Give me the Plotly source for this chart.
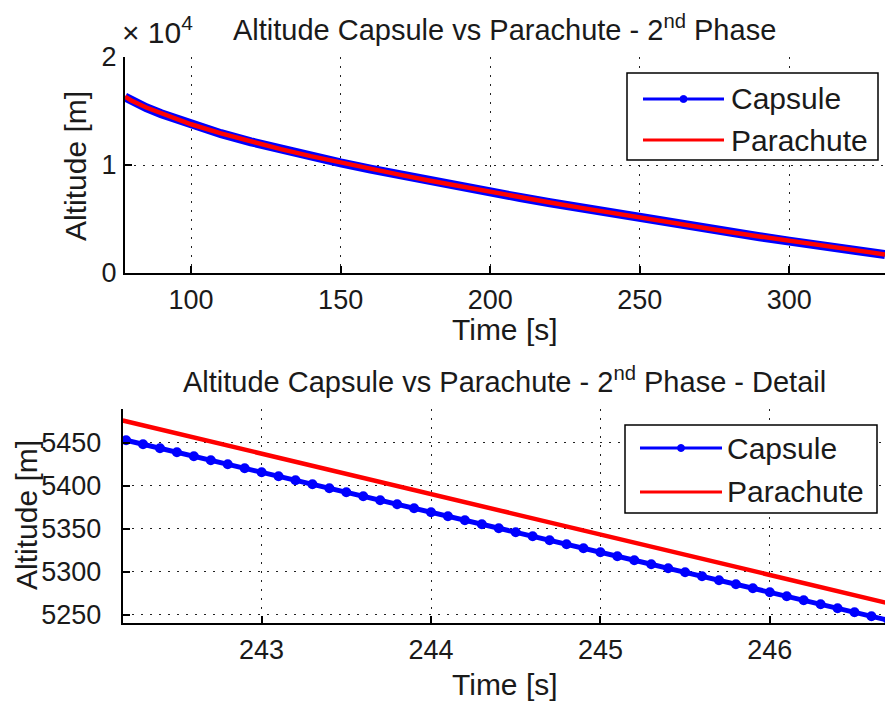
import plotly.graph_objects as go

W, H = 885, 702

# ---------------- data ----------------
# Overview panel (2nd phase)
t_over = [77.9, 80, 85, 90, 95, 100, 110, 120, 130, 140, 150, 160, 170, 180, 190,
          200, 210, 220, 230, 240, 245, 250, 260, 270, 280, 290, 300, 310, 320, 332]
capsule_over = [16300, 15950, 15300, 14750, 14250, 13750, 12900, 12150, 11450, 10800,
                10200, 9620, 9060, 8520, 8000, 7490, 6990, 6500, 6030, 5560,
                5330, 5100, 4650, 4210, 3780, 3360, 2950, 2550, 2160, 1700]
parachute_over = [16322, 15972, 15322, 14772, 14272, 13772, 12922, 12172, 11472, 10822,
                  10222, 9642, 9082, 8542, 8022, 7512, 7012, 6522, 6052, 5582,
                  5344, 5122, 4672, 4232, 3802, 3382, 2972, 2572, 2182, 1722]

# Detail panel
t_det_capsule = [242.2, 242.3, 242.4, 242.5, 242.6, 242.7, 242.8, 242.9,
                 243.0, 243.1, 243.2, 243.3, 243.4, 243.5, 243.6, 243.7, 243.8, 243.9,
                 244.0, 244.1, 244.2, 244.3, 244.4, 244.5, 244.6, 244.7, 244.8, 244.9,
                 245.0, 245.1, 245.2, 245.3, 245.4, 245.5, 245.6, 245.7, 245.8, 245.9,
                 246.0, 246.1, 246.2, 246.3, 246.4, 246.5, 246.6, 246.7]
capsule_det = [5453.0, 5448.4, 5443.7, 5439.1, 5434.4, 5429.8, 5425.1, 5420.5,
               5415.8, 5411.2, 5406.5, 5401.9, 5397.2, 5392.6, 5387.9, 5383.3, 5378.6, 5374.0,
               5369.3, 5364.7, 5360.0, 5355.4, 5350.7, 5346.1, 5341.4, 5336.8, 5332.1, 5327.5,
               5322.8, 5318.2, 5313.5, 5308.9, 5304.2, 5299.6, 5294.9, 5290.3, 5285.6, 5281.0,
               5276.3, 5271.7, 5267.0, 5262.4, 5257.7, 5253.1, 5248.4, 5243.8]
t_det_parachute = [242.18, 243.0, 244.0, 245.0, 246.0, 246.7]
parachute_det = [5476.0, 5437.5, 5390.5, 5343.5, 5296.5, 5263.6]

series_names = ["Capsule", "Parachute"]
top_title = "Altitude Capsule vs Parachute - 2<sup>nd</sup> Phase"
bot_title = "Altitude Capsule vs Parachute - 2<sup>nd</sup> Phase - Detail"
x_label = "Time [s]"
y_label = "Altitude [m]"
top_xticks = [100, 150, 200, 250, 300]
top_yticks = [0, 10000, 20000]
top_yticktext = ["0", "1", "2"]
bot_xticks = [243, 244, 245, 246]
bot_yticks = [5250, 5300, 5350, 5400, 5450]

# ---------------- styling ----------------
BLUE = "#0000FF"
RED = "#FF0000"
TXT = "#1a1a1a"
FONT = "Liberation Sans, Arial, sans-serif"
TICK_FS = 27
TEXT_FS = 30
TITLE_FS = 29


def px(x):
    return x / W


def py(y):
    return 1 - y / H


fig = go.Figure()

fig.add_trace(go.Scatter(x=t_over, y=capsule_over, mode="lines",
                         line=dict(color=BLUE, width=9), name=series_names[0],
                         showlegend=False, xaxis="x", yaxis="y"))
fig.add_trace(go.Scatter(x=t_over, y=parachute_over, mode="lines",
                         line=dict(color=RED, width=4.5), name=series_names[1],
                         showlegend=False, xaxis="x", yaxis="y"))
fig.add_trace(go.Scatter(x=t_det_capsule, y=capsule_det, mode="lines+markers",
                         line=dict(color=BLUE, width=5),
                         marker=dict(color=BLUE, size=10, symbol="circle"),
                         name=series_names[0], showlegend=False, xaxis="x2", yaxis="y2"))
fig.add_trace(go.Scatter(x=t_det_parachute, y=parachute_det, mode="lines",
                         line=dict(color=RED, width=4.5), name=series_names[1],
                         showlegend=False, xaxis="x2", yaxis="y2"))

axis_common = dict(
    showline=True, linecolor="black", linewidth=2, mirror=False,
    ticks="inside", ticklen=7, tickwidth=1.5, tickcolor="black",
    showgrid=True, gridcolor="#222222", gridwidth=1, griddash="2px,7px",
    zeroline=False, automargin=False,
    tickfont=dict(family=FONT, size=TICK_FS, color=TXT),
)

fig.update_layout(
    width=W, height=H,
    margin=dict(l=0, r=0, t=0, b=0, autoexpand=False),
    paper_bgcolor="white", plot_bgcolor="white",
    showlegend=False,
    xaxis=dict(axis_common, domain=[px(125), 1], range=[77.9, 332],
               tickvals=top_xticks, anchor="y", ticklabelstandoff=2),
    yaxis=dict(axis_common, domain=[py(273), py(57)], range=[0, 20000],
               tickvals=top_yticks, ticktext=top_yticktext, anchor="x",
               ticklabelstandoff=1),
    xaxis2=dict(axis_common, domain=[px(122.7), 1], range=[242.18, 246.68],
                tickvals=bot_xticks, anchor="y2", ticklabelstandoff=2),
    yaxis2=dict(axis_common, domain=[py(622.7), py(409.3)], range=[5241, 5489],
                tickvals=bot_yticks, anchor="x2", ticklabelstandoff=14),
)

ann = []
shapes = []
tfont = dict(family=FONT, size=TEXT_FS, color=TXT)
titlefont = dict(family=FONT, size=TITLE_FS, color=TXT)

# titles and axis labels
ann.append(dict(text=top_title, x=px(505), y=py(28), xref="paper", yref="paper",
                showarrow=False, xanchor="center", yanchor="middle", font=titlefont))
ann.append(dict(text=bot_title, x=px(505), y=py(380), xref="paper", yref="paper",
                showarrow=False, xanchor="center", yanchor="middle", font=titlefont))
ann.append(dict(text=x_label, x=px(505), y=py(329), xref="paper", yref="paper",
                showarrow=False, xanchor="center", yanchor="middle", font=tfont))
ann.append(dict(text=x_label, x=px(505), y=py(684), xref="paper", yref="paper",
                showarrow=False, xanchor="center", yanchor="middle", font=tfont))
ann.append(dict(text=y_label, x=px(76), y=py(166), xref="paper", yref="paper",
                showarrow=False, xanchor="center", yanchor="middle", textangle=-90,
                font=tfont))
ann.append(dict(text=y_label, x=px(26), y=py(515), xref="paper", yref="paper",
                showarrow=False, xanchor="center", yanchor="middle", textangle=-90,
                font=tfont))
ann.append(dict(text="× 10<sup>4</sup>", x=px(120), y=py(30), xref="paper", yref="paper",
                showarrow=False, xanchor="left", yanchor="middle", font=tfont))


def legend_box(x0, x1, y0, y1, y_cap, y_par, lx0, lx1, tx):
    shapes.append(dict(type="rect", xref="paper", yref="paper",
                       x0=px(x0), x1=px(x1), y0=py(y1), y1=py(y0),
                       line=dict(color="black", width=1.5), fillcolor="white",
                       layer="above"))
    shapes.append(dict(type="line", xref="paper", yref="paper",
                       x0=px(lx0), x1=px(lx1), y0=py(y_cap), y1=py(y_cap),
                       line=dict(color=BLUE, width=3), layer="above"))
    mx = (lx0 + lx1) / 2
    shapes.append(dict(type="circle", xref="paper", yref="paper",
                       x0=px(mx - 3.5), x1=px(mx + 3.5), y0=py(y_cap + 3.5), y1=py(y_cap - 3.5),
                       line=dict(color=BLUE, width=1), fillcolor=BLUE, layer="above"))
    shapes.append(dict(type="line", xref="paper", yref="paper",
                       x0=px(lx0), x1=px(lx1), y0=py(y_par), y1=py(y_par),
                       line=dict(color=RED, width=3), layer="above"))
    ann.append(dict(text=series_names[0], x=px(tx), y=py(y_cap), xref="paper", yref="paper",
                    showarrow=False, xanchor="left", yanchor="middle", font=tfont))
    ann.append(dict(text=series_names[1], x=px(tx), y=py(y_par), xref="paper", yref="paper",
                    showarrow=False, xanchor="left", yanchor="middle", font=tfont))


legend_box(627, 878, 73, 160, 99, 140, 643, 724, 729)
legend_box(625, 877, 425, 513, 448, 492, 640, 722, 725)

fig.update_layout(annotations=ann, shapes=shapes)

fig.write_html("out.html")
